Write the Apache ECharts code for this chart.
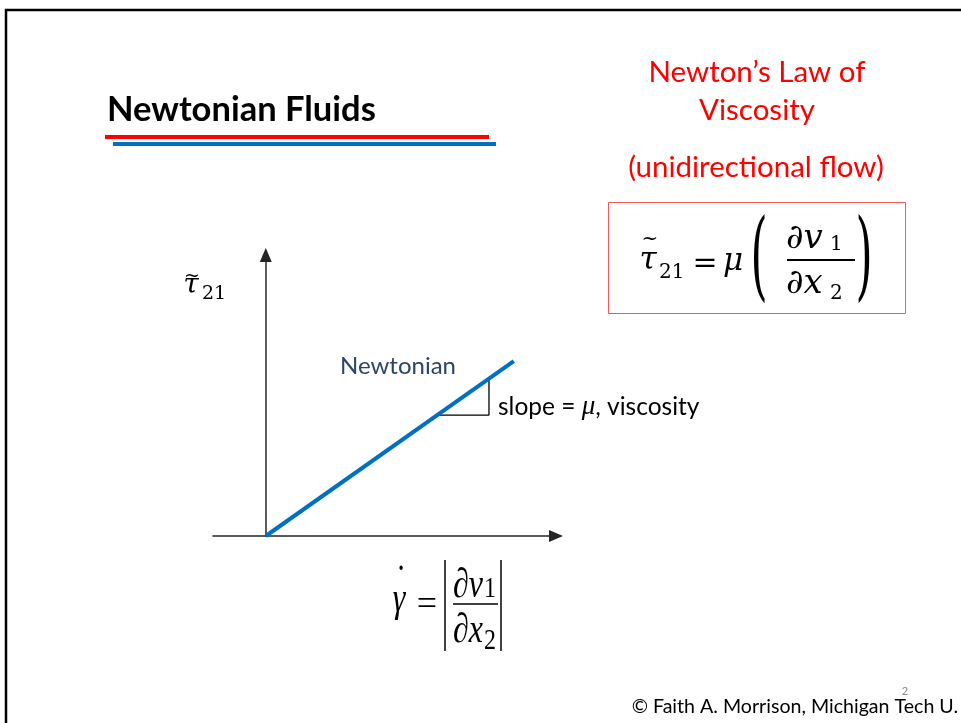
<!DOCTYPE html>
<html>
<head>
<meta charset="utf-8">
<title>Newtonian Fluids</title>
<script src="https://cdn.jsdelivr.net/npm/echarts@6/dist/echarts.min.js"></script>
<style>
  html, body { margin: 0; padding: 0; background: #fff; }
  #main { width: 961px; height: 723px; }
</style>
</head>
<body>
<div id="main"></div>
<script>
// values (arbitrary units, origin = where the axes cross)
const newtonianX = [0, 4.70];
const newtonianY = [0, 3.30];
// little slope triangle under the line
const slopeX = [3.25, 4.23, 4.23];
const slopeY = [2.28, 2.28, 2.97];

const xRange = [-1, 5.5];
const yRange = [0, 5.3];

const sans = 'Lato, "Open Sans", sans-serif';
const mathFont = '"DejaVu Serif", serif';
const timesFont = '"Liberation Serif", "DejaVu Serif", serif';

function zip(xs, ys) {
  return xs.map((x, i) => [x, ys[i]]);
}

function txt(x, y, text, size, extra, scaleY) {
  return {
    type: 'text', x: x, y: y, silent: true,
    scaleY: scaleY || 1,
    style: Object.assign({
      text: text, fontSize: size, fontFamily: sans, fill: '#000',
      align: 'left', verticalAlign: 'middle'
    }, extra || {})
  };
}

function seg(x1, y1, x2, y2, w, color) {
  return {
    type: 'line', silent: true,
    shape: { x1: x1, y1: y1, x2: x2, y2: y2 },
    style: { stroke: color || '#000', lineWidth: w }
  };
}

function bar(x, y, w, h, color) {
  return { type: 'rect', silent: true, shape: { x: x, y: y, width: w, height: h }, style: { fill: color } };
}

const italicMath = { fontFamily: mathFont, fontStyle: 'italic' };
const italicTimes = { fontFamily: timesFont, fontStyle: 'italic' };
const times = { fontFamily: timesFont };
const stretch = 1.3; // the gamma-dot equation is stretched vertically on the slide

const axisCommon = {
  type: 'value',
  axisLine: {
    show: true,
    onZero: true,
    symbol: ['none', 'triangle'],
    symbolSize: [12, 14],
    lineStyle: { color: '#262626', width: 1.5 }
  },
  axisTick: { show: false },
  axisLabel: { show: false },
  splitLine: { show: false }
};

const graphics = [
  // slide frame
  { type: 'rect', silent: true, shape: { x: 6, y: 10, width: 1200, height: 1000 },
    style: { fill: 'none', stroke: '#000', lineWidth: 2.5 } },

  // title + double underline
  txt(107, 110, 'Newtonian Fluids', 34.5, { fontWeight: 'bold' }),
  bar(105, 135, 384, 4, '#ff0000'),
  bar(113, 142, 383, 4, '#0070c0'),

  // red heading on the right
  txt(757, 72, 'Newton\u2019s Law of', 29.5, { align: 'center', fill: '#ff0000' }),
  txt(757, 110, 'Viscosity', 29.5, { align: 'center', fill: '#ff0000' }),
  txt(756, 167, '(unidirectional flow)', 29.5, { align: 'center', fill: '#ff0000' }),

  // boxed formula  tau21 = mu (dv1/dx2)
  { type: 'rect', silent: true, shape: { x: 608.5, y: 202.5, width: 297, height: 111 },
    style: { fill: 'none', stroke: '#f05a5a', lineWidth: 1 } },
  txt(648, 261, '\u03c4', 31, Object.assign({ align: 'center' }, italicMath)),
  txt(650, 240, '~', 20, { align: 'center', fontFamily: mathFont }),
  txt(659, 273, '21', 20, { fontFamily: mathFont }),
  txt(705, 264, '=', 30, { align: 'center', fontFamily: mathFont }),
  txt(733, 262, '\u03bc', 31, Object.assign({ align: 'center' }, italicMath)),
  txt(759, 263, '(', 44, { align: 'center', fontFamily: mathFont }, 2.2),
  txt(786, 239, '\u2202v', 34, italicMath),
  txt(830, 245, '1', 20, { fontFamily: mathFont }),
  bar(787, 259, 68, 2, '#000'),
  txt(786, 284, '\u2202x', 34, italicMath),
  txt(830, 294, '2', 20, { fontFamily: mathFont }),
  txt(864, 263, ')', 44, { align: 'center', fontFamily: mathFont }, 2.2),

  // y axis label
  txt(191, 286, '\u03c4', 28, Object.assign({ align: 'center' }, italicMath)),
  txt(192, 276, '~', 19, { align: 'center', fontFamily: mathFont }),
  txt(202, 294, '21', 19, { fontFamily: mathFont }),

  // line labels
  txt(398, 366, 'Newtonian', 24, { align: 'center', fill: '#2b4468' }),
  {
    type: 'text', x: 498, y: 407, silent: true,
    style: {
      text: '{a|slope = }{m|\u03bc}{a|, viscosity}',
      align: 'left', verticalAlign: 'middle',
      rich: {
        a: { fontFamily: sans, fontSize: 24.5, fill: '#000' },
        m: { fontFamily: timesFont, fontStyle: 'italic', fontSize: 27, fill: '#000' }
      }
    }
  },

  // x axis label  gamma-dot = |dv1/dx2|
  txt(399, 600, '\u03b3', 32, Object.assign({ align: 'center' }, italicTimes), stretch),
  txt(401, 583, '\u02d9', 32, Object.assign({ align: 'center' }, times), stretch),
  txt(427, 606, '=', 36, Object.assign({ align: 'center' }, times)),
  seg(445, 560, 445, 651, 1.5),
  txt(453, 586, '\u2202v', 32, italicTimes, stretch),
  txt(484, 589, '1', 24, times, 1.2),
  seg(453, 604, 498, 604, 1.5),
  txt(453, 631, '\u2202x', 32, italicTimes, stretch),
  txt(484, 641, '2', 24, times, 1.2),
  seg(501, 560, 501, 651, 1.5),

  // footer
  txt(905, 691, '2', 11, { align: 'center', fill: '#888' }),
  txt(958, 707, '\u00a9 Faith A. Morrison, Michigan Tech U.', 19.6, { align: 'right' })
];

const chart = echarts.init(document.getElementById('main'));

const option = {
  animation: false,
  backgroundColor: '#fff',
  grid: { left: 213, right: 405, top: 255, bottom: 187 },
  xAxis: Object.assign({ min: xRange[0], max: xRange[1] }, axisCommon),
  yAxis: Object.assign({ min: yRange[0], max: yRange[1] }, axisCommon),
  series: [
    {
      name: 'Newtonian',
      type: 'line',
      data: zip(newtonianX, newtonianY),
      symbol: 'none',
      lineStyle: { color: '#0070c0', width: 4 },
      z: 5
    },
    {
      name: 'slope',
      type: 'line',
      data: zip(slopeX, slopeY),
      symbol: 'none',
      lineStyle: { color: '#000', width: 1.3 },
      z: 4
    }
  ],
  graphic: graphics
};

chart.setOption(option);
</script>
</body>
</html>
